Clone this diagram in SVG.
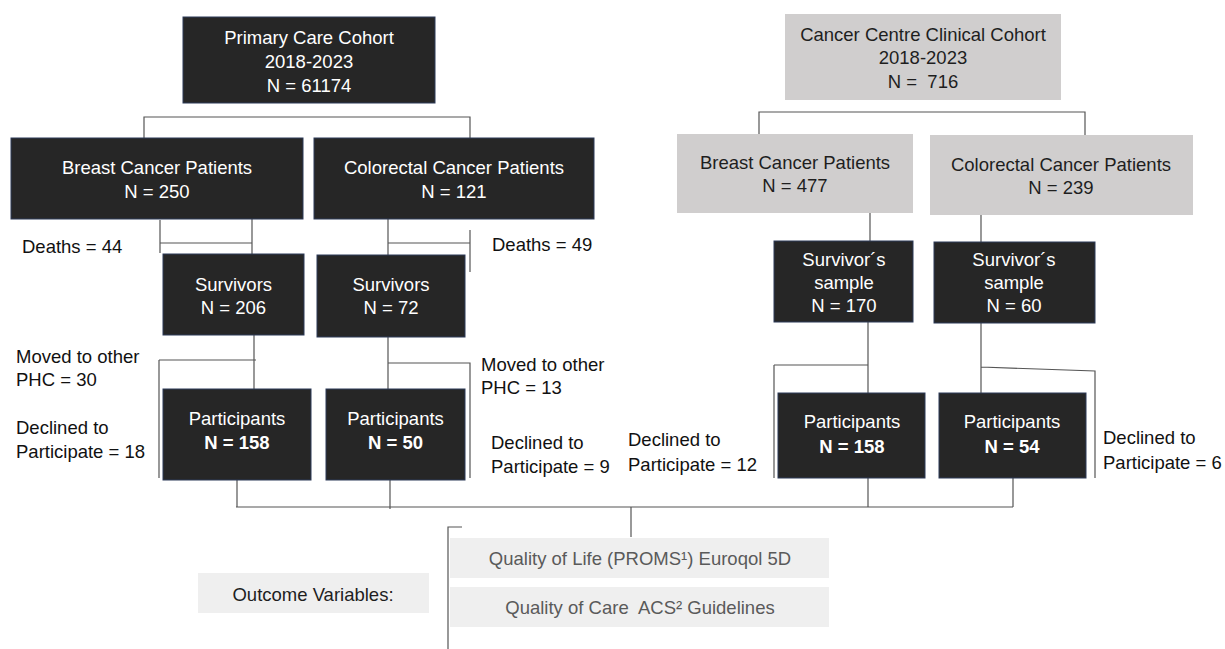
<svg xmlns="http://www.w3.org/2000/svg" width="1225" height="649" viewBox="0 0 1225 649">
<style>
.dk{fill:#262626;stroke:#2c3a58;stroke-width:1}
.lt{fill:#d0cece}
.op{fill:#efefef}
text{font-family:"Liberation Sans",Arial,sans-serif;font-size:18.5px}
.w{fill:#ffffff;text-anchor:middle}
.b{fill:#1e1e1e;text-anchor:middle}
.g{fill:#5a5a5a;text-anchor:middle}
.lab{fill:#111111}
.bold{font-weight:bold}
.con{fill:none;stroke:#555555;stroke-width:1.2}
</style>
<rect width="1225" height="649" fill="#ffffff"/>
<g id="connectors" class="con">
<path d="M144,138 V117 H470 V138"/>
<path d="M759,135 V112 H1085 V135"/>
<path d="M252,219 V254 M160,220 V253 M160,243 H252"/>
<path d="M388,219 V255 M388,243 H470 M470,230 V272"/>
<path d="M254,335 V389 M159,360 H256 M159,360 V478"/>
<path d="M388,337 V389 M388,363 H470 V478"/>
<path d="M870,213 V241 M981,215 V242"/>
<path d="M868,322 V393 M774,365 H868 M774,365 V478"/>
<path d="M981,323 V393 M981,367 L1095,371 V478"/>
<path d="M237,480 V507 M390,480 V509 M868,478 V507 M1013,478 V507 M236,507 H1013"/>
<path d="M631,507 V537"/>
<path d="M462,527 H448 V649"/>
</g>
<g id="primary_care_cohort">
<rect class="dk" x="183" y="17" width="252" height="86"/>
<text class="w" x="309" y="44">Primary Care Cohort</text>
<text class="w" x="309" y="68">2018-2023</text>
<text class="w" x="309" y="92">N = 61174</text>
</g>
<g id="cancer_centre_cohort">
<rect class="lt" x="785" y="14" width="276" height="86"/>
<text class="b" x="923" y="41">Cancer Centre Clinical Cohort</text>
<text class="b" x="923" y="64">2018-2023</text>
<text class="b" x="923" y="88" xml:space="preserve">N =  716</text>
</g>
<g id="pc_breast">
<rect class="dk" x="11" y="138" width="292" height="81"/>
<text class="w" x="157" y="174">Breast Cancer Patients</text>
<text class="w" x="157" y="198">N = 250</text>
</g>
<g id="pc_colorectal">
<rect class="dk" x="314" y="138" width="280" height="81"/>
<text class="w" x="454" y="174">Colorectal Cancer Patients</text>
<text class="w" x="454" y="198">N = 121</text>
</g>
<g id="cc_breast">
<rect class="lt" x="677" y="134" width="236" height="79"/>
<text class="b" x="795" y="169">Breast Cancer Patients</text>
<text class="b" x="795" y="192">N = 477</text>
</g>
<g id="cc_colorectal">
<rect class="lt" x="930" y="135" width="263" height="80"/>
<text class="b" x="1061" y="171">Colorectal Cancer Patients</text>
<text class="b" x="1061" y="194">N = 239</text>
</g>
<g id="pc_breast_survivors">
<rect class="dk" x="163" y="254" width="141" height="81"/>
<text class="w" x="233.5" y="291">Survivors</text>
<text class="w" x="233.5" y="314">N = 206</text>
</g>
<g id="pc_colorectal_survivors">
<rect class="dk" x="317" y="255" width="148" height="82"/>
<text class="w" x="391" y="291">Survivors</text>
<text class="w" x="391" y="314">N = 72</text>
</g>
<g id="cc_breast_survivors">
<rect class="dk" x="774" y="241" width="139" height="81"/>
<text class="w" x="844" y="266">Survivor´s</text>
<text class="w" x="844" y="289">sample</text>
<text class="w" x="844" y="312">N = 170</text>
</g>
<g id="cc_colorectal_survivors">
<rect class="dk" x="934" y="242" width="161" height="81"/>
<text class="w" x="1014" y="266">Survivor´s</text>
<text class="w" x="1014" y="289">sample</text>
<text class="w" x="1014" y="312">N = 60</text>
</g>
<g id="pc_breast_participants">
<rect class="dk" x="163" y="389" width="148" height="91"/>
<text class="w" x="237" y="425">Participants</text>
<text class="w bold" x="237" y="449">N = 158</text>
</g>
<g id="pc_colorectal_participants">
<rect class="dk" x="326" y="389" width="139" height="91"/>
<text class="w" x="395.5" y="425">Participants</text>
<text class="w bold" x="395.5" y="449">N = 50</text>
</g>
<g id="cc_breast_participants">
<rect class="dk" x="778" y="393" width="147" height="85"/>
<text class="w" x="852" y="428">Participants</text>
<text class="w bold" x="852" y="453">N = 158</text>
</g>
<g id="cc_colorectal_participants">
<rect class="dk" x="939" y="393" width="147" height="85"/>
<text class="w" x="1012" y="428">Participants</text>
<text class="w bold" x="1012" y="453">N = 54</text>
</g>
<g id="labels">
<text class="lab" x="22" y="253">Deaths = 44</text>
<text class="lab" x="492" y="251">Deaths = 49</text>
<text class="lab" x="16" y="363">Moved to other</text>
<text class="lab" x="16" y="386">PHC = 30</text>
<text class="lab" x="16" y="434">Declined to</text>
<text class="lab" x="16" y="458">Participate = 18</text>
<text class="lab" x="481" y="371">Moved to other</text>
<text class="lab" x="481" y="394">PHC = 13</text>
<text class="lab" x="491" y="449">Declined to</text>
<text class="lab" x="491" y="473">Participate = 9</text>
<text class="lab" x="628" y="446">Declined to</text>
<text class="lab" x="628" y="471">Participate = 12</text>
<text class="lab" x="1103" y="444">Declined to</text>
<text class="lab" x="1103" y="469">Participate = 6</text>
</g>
<g id="outcome_variables">
<rect class="op" x="198" y="573" width="231" height="40"/>
<text class="b" x="313" y="601">Outcome Variables:</text>
</g>
<g id="quality_of_life">
<rect class="op" x="450" y="538" width="379" height="40"/>
<text class="g" x="640" y="565">Quality of Life (PROMS¹) Euroqol 5D</text>
</g>
<g id="quality_of_care">
<rect class="op" x="450" y="587" width="379" height="40"/>
<text class="g" x="640" y="614" xml:space="preserve">Quality of Care  ACS² Guidelines</text>
</g>
</svg>
